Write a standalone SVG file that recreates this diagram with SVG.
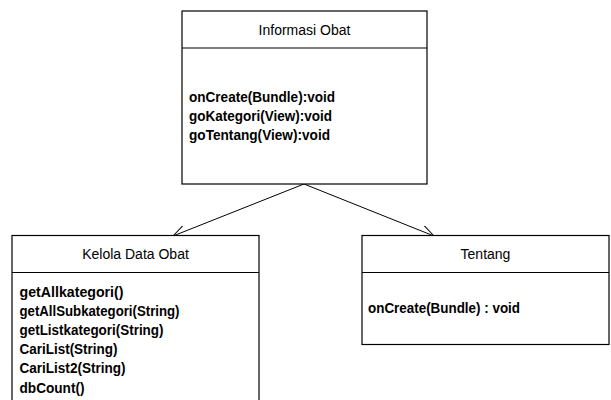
<svg xmlns="http://www.w3.org/2000/svg" width="611" height="400" viewBox="0 0 611 400">
  <style>
    .box { fill: #ffffff; stroke: #000000; stroke-width: 1.2; }
    .sep { stroke: #000000; stroke-width: 1.2; }
    .title { font-family: "Liberation Sans", Arial, sans-serif; font-size: 14px; fill: #000; text-anchor: middle; }
    .op { font-family: "Liberation Sans", Arial, sans-serif; font-size: 14.5px; font-weight: bold; fill: #000; }
    .link { fill: none; stroke: #000000; stroke-width: 1; marker-end: url(#open); }
  </style>
  <defs>
    <marker id="open" viewBox="0 0 16 12" refX="15" refY="6" markerWidth="16" markerHeight="12" markerUnits="userSpaceOnUse" orient="auto">
      <path d="M2,0 L15,6 L2,12" fill="none" stroke="#000" stroke-width="1"/>
    </marker>
  </defs>
  <rect width="611" height="400" fill="#ffffff"/>

  <g id="connectors">
    <line class="link" x1="304" y1="184" x2="173" y2="236"/>
    <line class="link" x1="304" y1="184" x2="434" y2="236"/>
  </g>

  <g id="informasi-obat">
    <rect class="box" x="182" y="11" width="245" height="173"/>
    <line class="sep" x1="182" y1="48" x2="427" y2="48"/>
    <text class="title" x="304.5" y="35">Informasi Obat</text>
    <text class="op" x="189" y="102" textLength="146" lengthAdjust="spacingAndGlyphs">onCreate(Bundle):void</text>
    <text class="op" x="189" y="121" textLength="143" lengthAdjust="spacingAndGlyphs">goKategori(View):void</text>
    <text class="op" x="189" y="140" textLength="141" lengthAdjust="spacingAndGlyphs">goTentang(View):void</text>
  </g>

  <g id="kelola-data-obat">
    <rect class="box" x="12" y="235.5" width="247" height="175"/>
    <line class="sep" x1="12" y1="272.5" x2="259" y2="272.5"/>
    <text class="title" x="135.5" y="259">Kelola Data Obat</text>
    <text class="op" x="19.5" y="296.5" textLength="104" lengthAdjust="spacingAndGlyphs">getAllkategori()</text>
    <text class="op" x="19.5" y="315.7" textLength="160" lengthAdjust="spacingAndGlyphs">getAllSubkategori(String)</text>
    <text class="op" x="19.5" y="334.9" textLength="144" lengthAdjust="spacingAndGlyphs">getListkategori(String)</text>
    <text class="op" x="19.5" y="354.1" textLength="98" lengthAdjust="spacingAndGlyphs">CariList(String)</text>
    <text class="op" x="19.5" y="373.3" textLength="106" lengthAdjust="spacingAndGlyphs">CariList2(String)</text>
    <text class="op" x="19.5" y="392.5" textLength="65" lengthAdjust="spacingAndGlyphs">dbCount()</text>
  </g>

  <g id="tentang">
    <rect class="box" x="362" y="235.5" width="247" height="109"/>
    <line class="sep" x1="362" y1="272.5" x2="609" y2="272.5"/>
    <text class="title" x="485.5" y="259">Tentang</text>
    <text class="op" x="368" y="313" textLength="152" lengthAdjust="spacingAndGlyphs">onCreate(Bundle) : void</text>
  </g>
</svg>
